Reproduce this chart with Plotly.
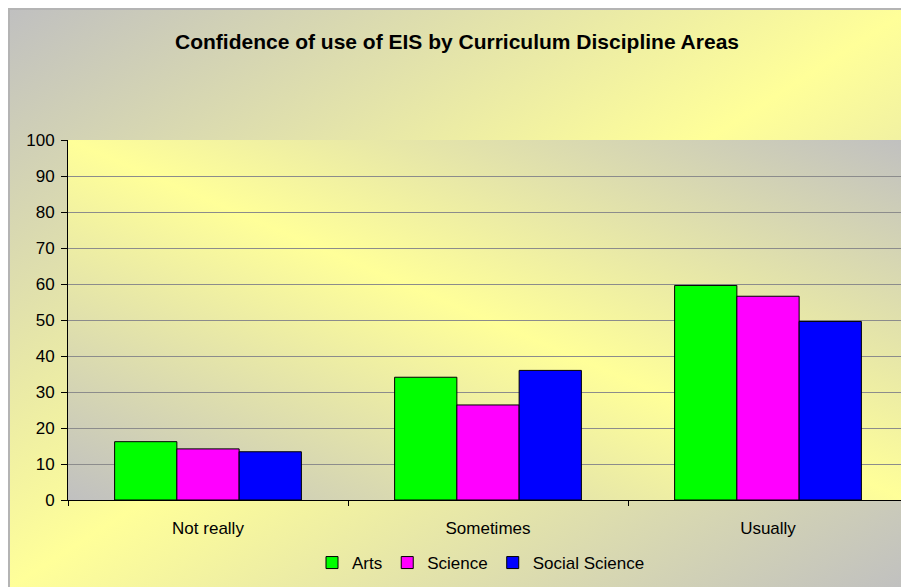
import base64
import plotly.graph_objects as go

categories = ["Not really", "Sometimes", "Usually"]
series_names = ["Arts", "Science", "Social Science"]
arts = [16.2, 34.1, 59.6]
science = [14.2, 26.4, 56.6]
social_science = [13.4, 36.0, 49.6]
series_colors = ["#00FF00", "#FF00FF", "#0000FF"]
y_ticks = list(range(0, 101, 10))

# page body has an 8px margin, so the figure is drawn 8px in from the corner
OFF = 8
W, H = 909 - OFF, 587 - OFF
ML, MR, MT, MB = 60, 1, 132, 87
PW, PH = W - ML - MR, H - MT - MB


def px_x(p):
    # page pixel -> paper x
    return (p - OFF - ML) / PW


def px_y(p):
    # page pixel -> paper y
    return (H - MB - (p - OFF)) / PH


def gradient_svg(x1, y1, x2, y2, c_edge, c_mid):
    svg = (
        '<svg xmlns="http://www.w3.org/2000/svg" width="100" height="100" '
        'preserveAspectRatio="none" viewBox="0 0 100 100">'
        f'<defs><linearGradient id="g" x1="{x1}" y1="{y1}" x2="{x2}" y2="{y2}">'
        f'<stop offset="0" stop-color="{c_edge}"/>'
        f'<stop offset="0.5" stop-color="{c_mid}"/>'
        f'<stop offset="1" stop-color="{c_edge}"/>'
        '</linearGradient></defs>'
        '<rect x="0" y="0" width="100" height="100" fill="url(#g)"/></svg>'
    )
    return "data:image/svg+xml;base64," + base64.b64encode(svg.encode()).decode()


fig = go.Figure()
for name, vals, col in zip(series_names, [arts, science, social_science], series_colors):
    fig.add_trace(go.Bar(
        name=name, x=categories, y=vals,
        marker=dict(color=col, line=dict(color="black", width=1)),
    ))

# chart area gradient (gray corners top-left / bottom-right)
fig.add_layout_image(
    source=gradient_svg(0, 0, 1, 1, "#C0C0C0", "#FFFF99"),
    xref="paper", yref="paper",
    x=px_x(10), y=px_y(10), sizex=(909 - 10) / PW, sizey=(587 - 10) / PH,
    xanchor="left", yanchor="top", sizing="stretch", layer="below",
)
# plot area gradient (gray corners top-right / bottom-left)
fig.add_layout_image(
    source=gradient_svg(1, 0, 0, 1, "#C0C0C0", "#FFFF99"),
    xref="paper", yref="paper",
    x=0, y=1, sizex=1, sizey=1,
    xanchor="left", yanchor="top", sizing="stretch", layer="below",
)

fig.update_layout(
    width=W, height=H,
    margin=dict(l=ML, r=MR, t=MT, b=MB),
    paper_bgcolor="#B4B4B4",
    plot_bgcolor="rgba(0,0,0,0)",
    font=dict(family="Arial, Liberation Sans, sans-serif", size=17, color="black"),
    title=dict(
        text="<b>Confidence of use of EIS by Curriculum Discipline Areas</b>",
        font=dict(size=21, color="black"),
        x=px_x(457), xanchor="center", xref="paper",
        y=1 - (42 - OFF) / H, yanchor="middle",
    ),
    barmode="group",
    bargap=0.333,
    bargroupgap=0,
    xaxis=dict(
        showline=True, linecolor="black", linewidth=1,
        ticks="outside", tickson="boundaries", ticklen=5, tickcolor="black",
        showgrid=False, tickfont=dict(size=17), ticklabelstandoff=13,
    ),
    yaxis=dict(
        range=[0, 100], tickvals=y_ticks,
        showline=True, linecolor="black", linewidth=1,
        ticks="outside", ticklen=6, tickcolor="black",
        showgrid=True, gridcolor="#8C8C8C", gridwidth=1,
        zeroline=False, tickfont=dict(size=17), ticklabelstandoff=3,
    ),
    legend=dict(
        orientation="h", x=px_x(481), xanchor="center",
        y=px_y(563), yanchor="middle",
        font=dict(size=17), bgcolor="rgba(0,0,0,0)",
        itemwidth=30, tracegroupgap=0,
    ),
)

fig.write_html("out.html")
